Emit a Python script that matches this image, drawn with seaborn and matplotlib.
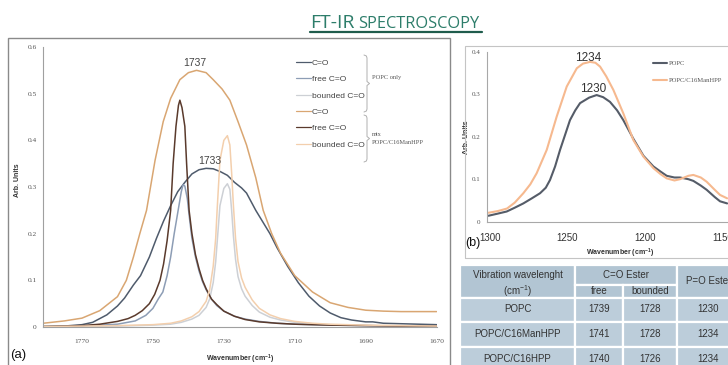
import numpy as np
import pandas as pd
import matplotlib
matplotlib.use("Agg")
import matplotlib.pyplot as plt
import seaborn as sns
from matplotlib.lines import Line2D
from matplotlib.patches import Rectangle

# ---------------- data: panel (a) C=O ester band ----------------
popc_co_wn = [1781,1775,1770,1767,1763,1760,1758,1755.5,1753.5,1751,1749,1747,1745,1743,1741,1739,1737,1735,1733,1731,
              1729,1727,1725,1723.6,1721,1719,1717,1715,1712,1709,1706,1703,1700,1697,1694,1690,1688,1685,1680,1675,1670]
popc_co_ab = [0.001,0.002,0.005,0.01,0.026,0.045,0.062,0.09,0.11,0.15,0.19,0.227,0.26,0.29,0.31,0.328,0.337,0.34,0.339,0.333,
              0.325,0.31,0.298,0.287,0.25,0.225,0.2,0.17,0.13,0.095,0.066,0.045,0.03,0.02,0.015,0.011,0.011,0.008,0.007,0.006,0.005]

popc_free_wn = [1781,1770,1760,1755,1752,1750,1748.5,1747.2,1746,1745,1744,1743,1742.4,1742,1741.5,1741,1740.3,1739.8,1739,1738,
                1737,1736,1735,1733.5,1732,1730,1727,1724,1720,1715,1710,1700,1690,1680,1670]
popc_free_ab = [0.0,0.002,0.006,0.013,0.025,0.04,0.06,0.075,0.11,0.15,0.2,0.245,0.272,0.29,0.305,0.302,0.275,0.24,0.19,0.15,
                0.12,0.097,0.08,0.06,0.046,0.034,0.023,0.017,0.012,0.008,0.006,0.004,0.003,0.002,0.002]

bound_wn = [1781,1770,1760,1750,1745,1742,1739,1737,1735,1734,1733,1732.3,1731.9,1731.1,1730,1729,1728.3,1727.8,1727.3,1726.7,
            1726,1725,1724,1722,1720,1717,1714,1710,1705,1700,1690,1680,1670]
popc_bound_ab = [0.001,0.001,0.002,0.004,0.006,0.01,0.017,0.025,0.042,0.06,0.095,0.14,0.18,0.26,0.297,0.307,0.295,0.25,0.195,0.145,
                 0.108,0.082,0.066,0.046,0.032,0.021,0.015,0.01,0.007,0.005,0.003,0.002,0.001]
mix_bound_ab = [0.001,0.002,0.003,0.005,0.008,0.013,0.022,0.033,0.055,0.08,0.13,0.19,0.25,0.357,0.4,0.41,0.39,0.33,0.26,0.19,
                0.14,0.105,0.085,0.058,0.04,0.026,0.018,0.012,0.008,0.006,0.004,0.003,0.002]

mix_co_wn = [1781,1775,1770,1765,1760,1757.5,1755.5,1753.7,1751.8,1749.4,1747.1,1745,1742.4,1740,1737.7,1735,1733,1730.5,1728.3,1726,
             1723.6,1721,1718.9,1716.5,1714,1710,1705,1700,1695,1690,1685,1680,1670]
mix_co_ab = [0.008,0.013,0.019,0.035,0.065,0.1,0.15,0.2,0.25,0.357,0.44,0.49,0.53,0.545,0.55,0.545,0.53,0.51,0.486,0.44,
             0.39,0.32,0.25,0.2,0.158,0.11,0.075,0.052,0.042,0.036,0.034,0.033,0.033]

mix_free_wn = [1781,1770,1765,1760,1757,1755,1753,1751,1749.5,1748,1747,1746,1745,1744.3,1743.5,1742.8,1742.4,1741.8,1741,1740.5,
               1739.8,1739,1738,1737,1736,1735,1733.5,1732,1730,1727,1724,1720,1715,1710,1700,1690,1680,1670]
mix_free_ab = [0.001,0.003,0.006,0.012,0.018,0.025,0.035,0.05,0.07,0.1,0.135,0.185,0.25,0.35,0.43,0.475,0.486,0.47,0.43,0.35,
               0.25,0.2,0.155,0.125,0.1,0.082,0.06,0.048,0.034,0.023,0.016,0.011,0.008,0.006,0.004,0.003,0.002,0.002]

series_a = ["POPC C=O", "POPC free C=O", "POPC bounded C=O", "mix C=O", "mix free C=O", "mix bounded C=O"]
legend_a = ["C=O", "free C=O", "bounded C=O", "C=O", "free C=O", "bounded C=O"]
colors_a = ["#4f5b6c", "#8d9db5", "#cdd0d5", "#d9a672", "#5a3a2c", "#f3cfad"]
xticks_a = [1770, 1750, 1730, 1710, 1690, 1670]
yticks_a = [0, 0.1, 0.2, 0.3, 0.4, 0.5, 0.6]
ylabels_a = ["0", "0.1", "0.2", "0.3", "0.4", "0.5", "0.6"]
peaks_a = [("1737", 1738.2, 0.565), ("1733", 1733.9, 0.356)]

# ---------------- data: panel (b) P=O ester band ----------------
popc_b_wn = [1301,1295,1289.2,1284,1278.5,1273,1267.7,1264,1261.3,1258,1254.8,1251.5,1248.4,1245,1241.9,1236,1231.2,1227,1222.6,1218,
             1214,1207.5,1201,1194.6,1190,1186,1181,1177.4,1172,1168.8,1164,1160.2,1155,1151.6,1147]
popc_b_ab = [0.014,0.019,0.024,0.033,0.043,0.055,0.067,0.08,0.098,0.13,0.169,0.205,0.239,0.262,0.279,0.292,0.298,0.293,0.282,0.262,
             0.239,0.195,0.155,0.13,0.118,0.108,0.104,0.104,0.1,0.096,0.085,0.075,0.058,0.048,0.043]
mix_b_wn = [1301,1295,1289,1284,1278.5,1274,1269.9,1263.4,1257,1250.5,1244,1240,1235.5,1232,1229,1225,1220.4,1214,1207.5,1201,
            1194.6,1190,1186,1181,1177.4,1172,1168.8,1164,1160.2,1155,1151.6,1147]
mix_b_ab = [0.021,0.025,0.031,0.045,0.067,0.088,0.114,0.169,0.247,0.318,0.361,0.372,0.376,0.374,0.365,0.342,0.31,0.255,0.192,0.153,
            0.126,0.112,0.102,0.097,0.1,0.108,0.11,0.104,0.094,0.075,0.063,0.055]
series_b = ["POPC", "POPC/C16ManHPP"]
colors_b = ["#555c68", "#f6b98f"]
xticks_b = [1300, 1250, 1200, 1150]
yticks_b = [0, 0.1, 0.2, 0.3, 0.4]
ylabels_b = ["0", "0.1", "0.2", "0.3", "0.4"]
peaks_b = [("1234", 1236.5, 0.385), ("1230", 1233.4, 0.312)]

# ---------------- data: table ----------------
table_rows = ["POPC", "POPC/C16ManHPP", "POPC/C16HPP"]
free_vals = ["1739", "1741", "1740"]
bounded_vals = ["1728", "1728", "1726"]
po_vals = ["1230", "1234", "1234"]

# ---------------- figure ----------------
sns.set_theme(style="white")
plt.rcParams['font.family'] = ['Liberation Sans', 'DejaVu Sans']

W, H = 728, 365
fig = plt.figure(figsize=(W / 100, H / 100), dpi=100)
fig.patch.set_facecolor('white')


def fx(x):
    return x / W


def fy(y):
    return 1 - y / H


def frect(x0, y0, x1, y1, **kw):
    r = Rectangle((fx(x0), fy(y1)), (x1 - x0) / W, (y1 - y0) / H, transform=fig.transFigure, **kw)
    fig.add_artist(r)


# panel frames
frect(8, 38, 450, 367, fill=False, ec='#8a8a8a', lw=1.0)
frect(465, 46, 731, 258, fill=False, ec='#c4c4c4', lw=0.8)

# title
title_font = ['Open Sans', 'DejaVu Sans']
fig.text(fx(310), fy(28), "FT-IR", ha='left', va='baseline', fontsize=14, color='#2d7d6a', family=title_font)
fig.text(fx(358), fy(28), "SPECTROSCOPY", ha='left', va='baseline', fontsize=11.8, color='#2d7d6a', family=title_font)
fig.add_artist(Line2D([fx(310), fx(482)], [fy(31.5), fy(31.5)], transform=fig.transFigure, color='#1f5c4c', lw=1.6))

# ---------------- panel (a) ----------------
ax1 = fig.add_axes([fx(43), fy(327), (436.6 - 43) / W, 280 / H])
frames = []
for key, w, a in zip(series_a,
                     [popc_co_wn, popc_free_wn, bound_wn, mix_co_wn, mix_free_wn, bound_wn],
                     [popc_co_ab, popc_free_ab, popc_bound_ab, mix_co_ab, mix_free_ab, mix_bound_ab]):
    frames.append(pd.DataFrame({'wn': w, 'ab': a, 'series': key}))
df_a = pd.concat(frames, ignore_index=True)
sns.lineplot(data=df_a, x='wn', y='ab', hue='series', hue_order=series_a,
             palette=dict(zip(series_a, colors_a)), estimator=None, sort=False,
             legend=False, linewidth=1.1, ax=ax1)
ax1.set_xlim(1781, 1670)
ax1.set_ylim(0, 0.6)
ax1.set_xticks(xticks_a)
ax1.set_xticklabels([str(t) for t in xticks_a])
ax1.set_yticks(yticks_a)
ax1.set_yticklabels(ylabels_a)
for s in ['top', 'right']:
    ax1.spines[s].set_visible(False)
for s in ['left', 'bottom']:
    ax1.spines[s].set_color('#a0a0a0')
    ax1.spines[s].set_linewidth(0.8)
ax1.tick_params(axis='both', direction='out', length=2.5, width=0.6, color='#a0a0a0',
                labelsize=5.3, labelcolor='#555555')
ax1.tick_params(axis='x', pad=6)
ax1.tick_params(axis='y', pad=2)
for lab in ax1.get_xticklabels() + ax1.get_yticklabels():
    lab.set_family(['Liberation Serif', 'DejaVu Serif'])
ax1.set_xlabel("Wavenumber (cm$^{\\mathregular{-1}}$)", fontsize=5, fontweight='bold', color='#333333')
ax1.xaxis.set_label_coords(0.5, -0.09)
ax1.set_ylabel("Arb. Units", fontsize=5, fontweight='bold', color='#333333')
ax1.yaxis.set_label_coords(-0.056, 0.525)
for txt, x, y in peaks_a:
    ax1.text(x, y, txt, ha='center', va='center', fontsize=7.5, color='#444444')
ax1.set_facecolor('none')

leg = ax1.legend(ax1.lines[:6], legend_a, loc='upper left',
                 bbox_to_anchor=(fx(296), fy(59)), bbox_transform=fig.transFigure,
                 frameon=False, fontsize=6, handlelength=1.8, handletextpad=0.1,
                 labelspacing=1.02, borderpad=0, borderaxespad=0)
for t in leg.get_texts():
    t.set_color('#444444')
for h in leg.get_lines():
    h.set_linewidth(0.9)


def brace(x, y0, y1):
    ym = (y0 + y1) / 2
    xs = [x - 3, x - 0.6, x, x, x + 2.5, x, x, x - 0.6, x - 3]
    ys = [y0, y0 + 1, y0 + 3, ym - 2, ym, ym + 2, y1 - 3, y1 - 1, y1]
    fig.add_artist(Line2D([fx(v) for v in xs], [fy(v) for v in ys], transform=fig.transFigure,
                          color='#b0b0b0', lw=0.7))


brace(367, 55, 112)
brace(367, 115, 162)
serif = ['Liberation Serif', 'DejaVu Serif']
fig.text(fx(372), fy(77.7), "POPC only", fontsize=4.6, family=serif, va='center', color='#555555')
fig.text(fx(372), fy(134), "mix", fontsize=4.6, family=serif, va='center', color='#555555')
fig.text(fx(372), fy(142.7), "POPC/C16ManHPP", fontsize=4.6, family=serif, va='center', color='#555555')
fig.text(fx(10), fy(355), "(a)", fontsize=9.5, va='center', ha='left', color='#111111')

# ---------------- panel (b) ----------------
ax2 = fig.add_axes([fx(486.9), fy(221.7), (728.7 - 486.9) / W, 170 / H])
df_b = pd.concat([pd.DataFrame({'wn': popc_b_wn, 'ab': popc_b_ab, 'series': series_b[0]}),
                  pd.DataFrame({'wn': mix_b_wn, 'ab': mix_b_ab, 'series': series_b[1]})], ignore_index=True)
sns.lineplot(data=df_b, x='wn', y='ab', hue='series', hue_order=series_b,
             palette=dict(zip(series_b, colors_b)), estimator=None, sort=False,
             legend=False, linewidth=1.5, ax=ax2)
ax2.set_xlim(1302, 1146)
ax2.set_ylim(0, 0.4)
ax2.set_xticks(xticks_b)
ax2.set_xticklabels([str(t) for t in xticks_b])
ax2.set_yticks(yticks_b)
ax2.set_yticklabels(ylabels_b)
for s in ['top', 'right']:
    ax2.spines[s].set_visible(False)
for s in ['left', 'bottom']:
    ax2.spines[s].set_color('#a8a8a8')
    ax2.spines[s].set_linewidth(0.8)
ax2.tick_params(axis='both', direction='out', length=2.5, width=0.6, color='#a8a8a8')
ax2.tick_params(axis='y', labelsize=5, labelcolor='#555555', pad=2)
ax2.tick_params(axis='x', labelsize=7, labelcolor='#333333', pad=5.5)
for lab in ax2.get_yticklabels():
    lab.set_family(serif)
for lab in ax2.get_xticklabels():
    lab.set_family(['Liberation Sans Narrow', 'Liberation Sans'])
ax2.set_xlabel("Wavenumber (cm$^{\\mathregular{-1}}$)", fontsize=5, fontweight='bold', color='#333333')
ax2.xaxis.set_label_coords((620 - 486.9) / (728.7 - 486.9), -0.15)
ax2.set_ylabel("Arb. Units", fontsize=5, fontweight='bold', color='#333333')
ax2.yaxis.set_label_coords(-0.07, 0.5)
for txt, x, y in peaks_b:
    ax2.text(x, y, txt, ha='center', va='center', fontsize=8.5, color='#333333',
             family=['Liberation Sans Narrow', 'Liberation Sans'])
ax2.set_facecolor('none')
leg2 = ax2.legend(ax2.lines[:2], series_b, loc='upper left',
                  bbox_to_anchor=(fx(653), fy(60.4)), bbox_transform=fig.transFigure,
                  frameon=False, fontsize=4.8, handlelength=2.1, handletextpad=0.2,
                  labelspacing=1.68, borderpad=0, borderaxespad=0)
for t in leg2.get_texts():
    t.set_color('#555555')
    t.set_family(serif)
fig.text(fx(465), fy(243), "(b)", fontsize=9, va='center', ha='left', color='#111111')

# ---------------- table ----------------
hdr = '#b2c5d3'
body = '#bccdda'
cell_kw = dict(ec='white', lw=1.6)
frect(460, 265, 575, 298, fc=hdr, **cell_kw)
frect(575, 265, 677, 285, fc=hdr, **cell_kw)
frect(575, 285, 623, 298, fc=hdr, **cell_kw)
frect(623, 285, 677, 298, fc=hdr, **cell_kw)
frect(677, 265, 740, 298, fc=hdr, **cell_kw)
row_edges = [298, 322, 347, 372]
col_edges = [460, 575, 623, 677, 740]
for r in range(3):
    for c in range(4):
        frect(col_edges[c], row_edges[r], col_edges[c + 1], row_edges[r + 1], fc=body, **cell_kw)


def ttext(x, y, s, fs=7):
    fig.text(fx(x), fy(y), s, ha='center', va='center', fontsize=fs, color='#333333')


ttext(517.5, 275, "Vibration wavelenght")
ttext(517.5, 291, "(cm$^{\\mathregular{-1}}$)")
ttext(626, 275, "C=O Ester")
ttext(599, 291.5, "free")
ttext(650, 291.5, "bounded")
ttext(708.5, 281.5, "P=O Ester")
for r, (name, fv, bv, pv) in enumerate(zip(table_rows, free_vals, bounded_vals, po_vals)):
    yc = (row_edges[r] + row_edges[r + 1]) / 2 - 0.5
    ttext(517.5, yc, name)
    ttext(599, yc, fv)
    ttext(650, yc, bv)
    ttext(708.5, yc, pv)

fig.savefig("out.png", dpi=100, facecolor='white')
